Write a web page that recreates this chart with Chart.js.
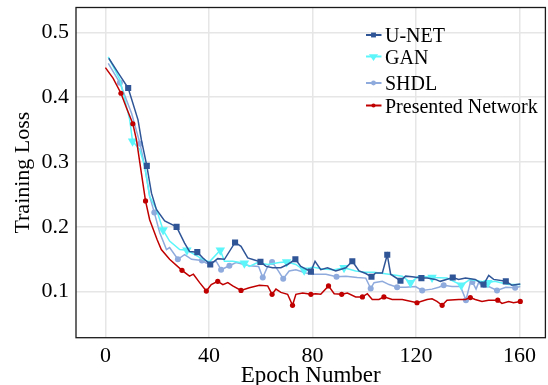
<!DOCTYPE html>
<html>
<head>
<meta charset="utf-8">
<script src="https://cdn.jsdelivr.net/npm/chart.js@4"></script>
<style>
html,body{margin:0;padding:0;background:#fff;}
canvas{display:block;}
</style>
</head>
<body>
<canvas id="c" width="548" height="385"></canvas>
<script>
// ---------- data ----------
const seriesNames = ["U-NET", "GAN", "SHDL", "Presented Network"];

const unetEpochs = [1.3, 5, 8.8, 12.6, 13.9, 16, 17.8, 19.7, 22.9, 27.5, 30.6, 32.5, 35.5, 37.7, 40.5, 43.4, 46, 50.1, 52.4, 55, 57.6, 59.9, 62.1, 64.6, 67.8, 70.4, 73.4, 75.5, 79.4, 81, 83.2, 85.8, 89, 92.9, 95.4, 98, 100.6, 102.8, 104.4, 107, 108.9, 110.2, 114, 116, 118.5, 122.1, 124.3, 127.5, 129.4, 134.2, 136.5, 139.1, 142.9, 146.1, 148.1, 150, 154.7, 157, 160.3];
const unetLoss = [0.460, 0.437, 0.414, 0.365, 0.334, 0.294, 0.252, 0.227, 0.209, 0.200, 0.175, 0.162, 0.161, 0.152, 0.142, 0.151, 0.150, 0.176, 0.170, 0.152, 0.149, 0.146, 0.139, 0.137, 0.137, 0.142, 0.150, 0.139, 0.131, 0.147, 0.134, 0.137, 0.132, 0.137, 0.147, 0.132, 0.128, 0.123, 0.129, 0.129, 0.157, 0.127, 0.117, 0.124, 0.123, 0.121, 0.121, 0.119, 0.116, 0.122, 0.119, 0.121, 0.119, 0.111, 0.125, 0.119, 0.116, 0.110, 0.112];
const unetMarkers = [8.8, 16, 27.5, 35.5, 40.5, 50.1, 59.9, 73.4, 79.4, 95.4, 102.8, 108.9, 114, 122.1, 134.2, 146.1, 154.7];

const ganEpochs = [1.1, 5.6, 9.4, 10.5, 13.3, 15.2, 17.1, 19.7, 22.3, 24.8, 28.7, 31.5, 33.3, 37.7, 40.2, 44.4, 46, 49.2, 53.7, 55.6, 58.8, 62.7, 67.2, 70, 73.6, 76.8, 80, 83.9, 88.4, 92.2, 96.7, 100.6, 103.8, 109.6, 114.7, 117.9, 121.1, 126.2, 132, 137.5, 141, 147.8, 150.4, 155.8, 160.3];
const ganLoss = [0.462, 0.427, 0.365, 0.332, 0.319, 0.293, 0.247, 0.227, 0.195, 0.178, 0.165, 0.164, 0.160, 0.150, 0.146, 0.164, 0.147, 0.147, 0.144, 0.139, 0.145, 0.142, 0.145, 0.146, 0.142, 0.133, 0.138, 0.135, 0.134, 0.137, 0.132, 0.130, 0.130, 0.127, 0.124, 0.114, 0.124, 0.122, 0.121, 0.110, 0.119, 0.114, 0.116, 0.111, 0.111];
const ganMarkers = [10.5, 22.3, 31.5, 44.4, 53.7, 70, 76.8, 92.2, 117.9, 126.2, 137.5, 147.8];

const shdlEpochs = [1.1, 5.6, 10.1, 13.4, 15.2, 17.1, 18.9, 21, 23.6, 24.8, 28, 30.6, 33.3, 37.3, 39, 42.8, 44.7, 47.9, 50.5, 55.6, 59.2, 60.8, 62.7, 64.4, 66.5, 68.7, 71, 73.6, 77.5, 80.7, 85.2, 89.3, 92.9, 97.3, 100.6, 102.5, 103.8, 107, 109.6, 112.7, 116, 119.8, 122.4, 126.2, 128.8, 130.7, 133.9, 137.2, 139.3, 141, 141.8, 143.2, 144.2, 146.1, 148.1, 151.3, 154.7, 158.3, 160.3];
const shdlLoss = [0.452, 0.422, 0.375, 0.328, 0.293, 0.247, 0.222, 0.191, 0.165, 0.168, 0.150, 0.157, 0.150, 0.148, 0.144, 0.147, 0.134, 0.140, 0.145, 0.140, 0.139, 0.122, 0.139, 0.146, 0.134, 0.120, 0.132, 0.134, 0.129, 0.127, 0.127, 0.123, 0.124, 0.122, 0.121, 0.105, 0.114, 0.116, 0.111, 0.107, 0.107, 0.108, 0.102, 0.104, 0.107, 0.110, 0.108, 0.108, 0.087, 0.114, 0.115, 0.104, 0.114, 0.107, 0.108, 0.102, 0.107, 0.106, 0.108];
const shdlMarkers = [5.6, 13.4, 18.9, 28, 37.3, 44.7, 47.9, 60.8, 64.4, 68.7, 89.3, 102.5, 112.7, 122.4, 130.7, 139.3, 141.8, 151.3, 158.3];

const presEpochs = [0, 3, 6, 8.2, 10.6, 12, 13.9, 15.5, 17.1, 20, 21.6, 24.8, 29.6, 32.5, 34, 36.4, 39, 40.9, 43.4, 45.4, 47.3, 49.2, 52.4, 55.6, 59.5, 62.7, 64.4, 65.9, 67.8, 70.4, 72.3, 73.6, 76.2, 79.4, 81.3, 83.2, 86.2, 88.4, 91.3, 93.5, 96.7, 99.3, 101.2, 103.1, 105.7, 107.6, 110.8, 114.7, 120.4, 124.3, 126.2, 128.1, 130.1, 132, 136.5, 139.1, 141, 142.9, 145.5, 148, 151.6, 153.2, 155.8, 157.7, 160.3];
const presLoss = [0.4455, 0.429, 0.406, 0.383, 0.359, 0.334, 0.283, 0.240, 0.211, 0.180, 0.165, 0.150, 0.133, 0.124, 0.127, 0.114, 0.101, 0.111, 0.116, 0.111, 0.114, 0.109, 0.102, 0.106, 0.110, 0.109, 0.096, 0.104, 0.099, 0.096, 0.079, 0.096, 0.098, 0.096, 0.097, 0.096, 0.109, 0.097, 0.096, 0.098, 0.092, 0.092, 0.097, 0.088, 0.088, 0.092, 0.088, 0.088, 0.083, 0.088, 0.089, 0.085, 0.079, 0.087, 0.088, 0.088, 0.091, 0.088, 0.085, 0.087, 0.087, 0.082, 0.085, 0.083, 0.085];
const presMarkers = [6, 10.6, 15.5, 29.6, 39, 43.4, 52.4, 64.4, 72.3, 79.4, 86.2, 91.3, 99.3, 107.6, 120.4, 130.1, 141, 151.6, 160.3];

const xTickValues = [0, 40, 80, 120, 160];
const yTickValues = [0.1, 0.2, 0.3, 0.4, 0.5];
const xTitle = "Epoch Number";
const yTitle = "Training Loss";

// ---------- chart ----------
const SERIF = "'Liberation Serif', 'Times New Roman', serif";
function pts(xs, ys) { return xs.map((x, i) => ({x: x, y: ys[i]})); }
function markerRadius(list, r) {
  const s = new Set(list);
  return ctx => (ctx.raw && s.has(ctx.raw.x)) ? r : 0;
}

const styles = [
  {color: '#2F5597', shape: 'rect', r: 4.3, rot: 0},
  {color: '#5CF6FA', shape: 'triangle', r: 5.5, rot: 180},
  {color: '#8FAADC', shape: 'circle', r: 3, rot: 0},
  {color: '#C00000', shape: 'circle', r: 2.6, rot: 0}
];
const seriesData = [
  [unetEpochs, unetLoss, unetMarkers],
  [ganEpochs, ganLoss, ganMarkers],
  [shdlEpochs, shdlLoss, shdlMarkers],
  [presEpochs, presLoss, presMarkers]
];
const orders = [1, 2, 3, 0];

const datasets = seriesData.map((s, i) => ({
  label: seriesNames[i],
  data: pts(s[0], s[1]),
  borderColor: styles[i].color,
  backgroundColor: styles[i].color,
  borderWidth: 1.5,
  pointStyle: styles[i].shape,
  pointRotation: styles[i].rot,
  pointRadius: markerRadius(s[2], styles[i].r),
  pointBorderWidth: 0,
  pointHoverRadius: 0,
  tension: 0,
  fill: false,
  order: orders[i]
}));

function drawMarker(ctx, shape, x, y, r, color) {
  ctx.save();
  ctx.fillStyle = color;
  ctx.beginPath();
  if (shape === 'rect') {
    const s = r * Math.SQRT1_2;
    ctx.rect(x - s, y - s, 2 * s, 2 * s);
  } else if (shape === 'triangle') {
    const h = r * 1.5, w = r * 0.866;
    ctx.moveTo(x - w * 1.2, y - h / 3);
    ctx.lineTo(x + w * 1.2, y - h / 3);
    ctx.lineTo(x, y + 2 * h / 3);
    ctx.closePath();
  } else {
    ctx.arc(x, y, r, 0, Math.PI * 2);
  }
  ctx.fill();
  ctx.restore();
}

const framePlugin = {
  id: 'frame',
  afterDraw(chart) {
    const a = chart.chartArea, ctx = chart.ctx;
    ctx.save();
    ctx.strokeStyle = '#1a1a1a';
    ctx.lineWidth = 1.3;
    ctx.strokeRect(a.left, a.top, a.right - a.left, a.bottom - a.top);
    ctx.restore();
  }
};

const legendPlugin = {
  id: 'customLegend',
  afterDraw(chart) {
    const ctx = chart.ctx;
    const ys = [35, 56.5, 83, 105.5];
    ctx.save();
    chart.data.datasets.forEach((ds, i) => {
      const y = ys[i];
      ctx.strokeStyle = ds.borderColor;
      ctx.lineWidth = 2;
      ctx.beginPath();
      ctx.moveTo(366, y);
      ctx.lineTo(381.5, y);
      ctx.stroke();
      drawMarker(ctx, styles[i].shape, 373.5, y, styles[i].r * 0.8, ds.borderColor);
      ctx.fillStyle = '#000';
      ctx.font = '20px ' + SERIF;
      ctx.textBaseline = 'alphabetic';
      ctx.textAlign = 'left';
      ctx.fillText(ds.label, 385, y + 7);
    });
    ctx.restore();
  }
};

new Chart(document.getElementById('c'), {
  type: 'line',
  data: {datasets: datasets},
  options: {
    responsive: false,
    animation: false,
    devicePixelRatio: 1,
    layout: {padding: {top: 7.5, right: 1, left: 0, bottom: 0}},
    plugins: {legend: {display: false}, tooltip: {enabled: false}},
    scales: {
      x: {
        type: 'linear',
        min: -11.36,
        max: 170,
        afterFit: s => { s.height = 47.3; s.paddingLeft = 0; s.paddingRight = 0; },
        afterBuildTicks: s => { s.ticks = xTickValues.map(v => ({value: v})); },
        grid: {color: '#e6e6e6', lineWidth: 1.5, drawTicks: false},
        border: {display: false},
        ticks: {
          padding: 5,
          color: '#000',
          font: {family: SERIF, size: 22},
          maxRotation: 0,
          callback: v => String(v)
        },
        title: {
          display: true,
          text: xTitle,
          color: '#000',
          font: {family: SERIF, size: 23, lineHeight: 0.8},
          padding: {top: 0, bottom: 0}
        }
      },
      y: {
        type: 'linear',
        min: 0.0291,
        max: 0.5382,
        afterFit: s => { s.width = 76; s.paddingTop = 0; s.paddingBottom = 0; },
        afterBuildTicks: s => { s.ticks = yTickValues.map(v => ({value: v})); },
        grid: {color: '#e6e6e6', lineWidth: 1.5, drawTicks: false},
        border: {display: false},
        ticks: {
          padding: 7,
          color: '#000',
          font: {family: SERIF, size: 22},
          callback: v => Number(v).toFixed(1)
        },
        title: {
          display: true,
          text: yTitle,
          color: '#000',
          font: {family: SERIF, size: 22, lineHeight: 1.2},
          padding: {top: 10, bottom: 0}
        }
      }
    }
  },
  plugins: [framePlugin, legendPlugin]
});
</script>
</body>
</html>
